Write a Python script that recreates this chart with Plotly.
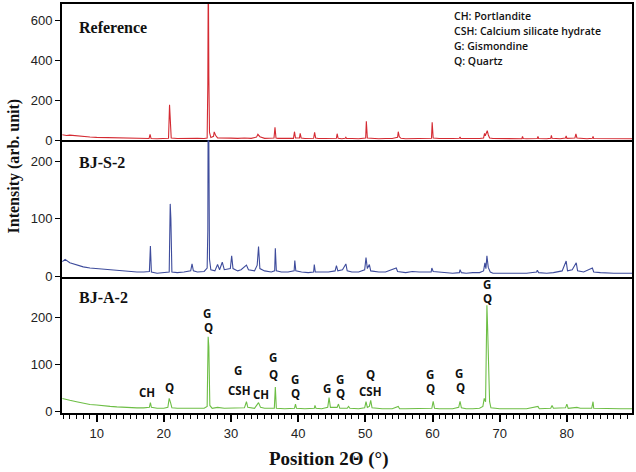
import plotly.graph_objects as go
from plotly.subplots import make_subplots

# ---------------- data ----------------
ref_x = [4.9, 5.5, 6, 7, 8, 9, 10, 11, 12, 13, 14, 15, 16, 17, 17.8, 17.95, 18.1, 19, 20, 20.7, 20.85, 20.95, 21.1,
         22, 23, 24, 25, 26, 26.45, 26.55, 26.62, 26.7, 26.8, 27.0, 27.4, 27.5, 27.7, 28, 29, 30, 31, 32, 33, 33.8,
         34.0, 34.3, 35, 36, 36.4, 36.55, 36.7, 37, 38, 39.3, 39.45, 39.6, 40.2, 40.3, 40.45, 41, 42.3, 42.45, 42.6,
         43, 44, 45.7, 45.8, 45.95, 46.5, 47.0, 47.1, 47.2, 48, 49, 50.05, 50.15, 50.3, 51, 52, 53, 54, 54.8, 54.9,
         55.05, 55.3, 56, 57, 58, 59.85, 59.95, 60.1, 61, 62, 63, 64.0, 64.1, 64.2, 65, 66, 67, 67.6, 67.75, 67.85,
         68.0, 68.15, 68.3, 68.5, 69, 70, 71, 72, 73.3, 73.4, 73.5, 74, 75.6, 75.7, 75.8, 77, 77.6, 77.7, 77.8, 79,
         79.8, 79.9, 80.0, 81.2, 81.35, 81.5, 83, 83.8, 83.9, 84.0, 86, 88, 89.7]
ref_y = [28, 24, 26, 22, 20, 17, 15, 14, 12, 11, 10, 10, 9, 8, 9, 30, 9, 8, 8, 10, 177, 110, 12,
         9, 10, 9, 10, 9, 12, 280, 900, 320, 40, 14, 20, 42, 25, 12, 10, 11, 10, 12, 10, 16,
         30, 18, 10, 11, 12, 65, 12, 10, 9, 10, 43, 12, 12, 35, 12, 9, 10, 40, 12,
         9, 9, 10, 33, 10, 8, 10, 15, 9, 9, 8, 12, 95, 12, 9, 8, 9, 9, 15, 43,
         18, 10, 8, 9, 8, 10, 90, 12, 9, 8, 9, 10, 17, 9, 8, 8, 9, 12, 35, 22,
         40, 48, 28, 12, 9, 8, 8, 9, 8, 20, 9, 8, 9, 20, 9, 8, 10, 25, 10, 8,
         12, 22, 10, 12, 32, 12, 8, 10, 20, 9, 8, 7, 8]

bjs_x = [4.9, 5.3, 6, 7, 8, 9, 10, 11, 12, 13, 14, 15, 16, 17, 17.85, 18.0, 18.15, 19, 20, 20.8, 20.95, 21.05, 21.2,
         22, 23, 24.0, 24.2, 24.4, 25, 26, 26.45, 26.55, 26.62, 26.7, 26.8, 27.0, 27.6, 28.0, 28.3, 28.7, 29, 29.9,
         30.1, 30.3, 31, 31.5, 32.3, 32.6, 33.5, 33.9, 34.1, 34.3, 35, 36, 36.5, 36.6, 36.75, 37.5, 38.5, 39.4, 39.5,
         39.65, 40.5, 41.5, 42.3, 42.4, 42.55, 43.5, 44.5, 45.5, 45.7, 45.9, 46.6, 47.1, 47.3, 48, 49, 49.9, 50.1,
         50.3, 50.6, 50.8, 52, 53, 54.6, 54.8, 56, 57, 58, 59.8, 59.9, 60.1, 61, 62, 63, 64, 64.1, 64.3, 65, 66, 67,
         67.6, 67.8, 67.95, 68.1, 68.3, 68.6, 69, 70, 71, 72, 73, 74, 75.5, 75.6, 75.8, 77, 78, 79.3, 79.9, 80.1,
         80.8, 81.4, 81.6, 82.5, 83.8, 84.0, 85, 87, 89.7]
bjs_y = [26, 30, 24, 20, 17, 15, 14, 12, 11, 10, 9, 9, 8, 8, 9, 53, 8, 6, 7, 8, 126, 100, 8,
         7, 8, 10, 22, 10, 8, 9, 15, 80, 400, 164, 30, 12, 10, 21, 12, 25, 12, 14,
         36, 14, 10, 12, 20, 12, 10, 20, 52, 14, 10, 8, 10, 49, 10, 8, 8, 10, 28,
         10, 8, 7, 8, 21, 8, 8, 8, 10, 19, 10, 12, 22, 10, 8, 8, 12, 33,
         14, 21, 10, 8, 8, 15, 9, 7, 9, 8, 8, 15, 9, 8, 7, 6, 7, 12, 7, 6, 7, 7,
         10, 24, 14, 36, 16, 8, 6, 6, 7, 7, 6, 6, 8, 11, 7, 6, 7, 10, 27, 10,
         12, 24, 10, 8, 15, 8, 7, 6, 6]

bja_x = [4.9, 5.3, 6, 7, 8, 9, 10, 11, 12, 13, 14, 15, 16, 17, 17.85, 18.0, 18.15, 19, 20, 20.6, 20.8, 21.0, 21.2,
         22, 23, 24, 25, 26, 26.45, 26.6, 26.7, 26.85, 27.2, 28, 29, 30, 31, 32, 32.3, 32.5, 33.5, 33.9, 34.1, 34.4,
         35, 36.45, 36.6, 36.75, 38, 39.45, 39.6, 39.75, 41, 42.4, 42.5, 42.65, 43.5, 44.4, 44.6, 44.8, 45.8, 46.0,
         46.2, 47.3, 47.5, 47.7, 49, 49.9, 50.1, 50.3, 50.6, 50.8, 51.0, 52.5, 54, 54.9, 55.1, 56, 57, 58, 59.9, 60.1,
         60.3, 61, 62, 63, 63.9, 64.1, 64.3, 65, 66, 67, 67.5, 67.7, 67.9, 68.0, 68.1, 68.2, 68.3, 68.4, 68.5, 68.7,
         70, 72, 74, 75.7, 75.9, 77.6, 77.8, 78.0, 79.8, 80.0, 80.2, 81.5, 82, 83.7, 83.9, 84.0, 86, 88, 89.7]
bja_y = [27, 25, 23, 20, 17, 14, 13, 11, 10, 9, 8, 8, 7, 7, 8, 18, 8, 6, 6, 8, 27, 18, 7,
         6, 6, 6, 6, 6, 10, 158, 137, 12, 6, 8, 6, 6, 6, 7, 20, 8, 6, 14, 18, 8,
         6, 6, 51, 6, 5, 6, 15, 6, 5, 6, 12, 6, 5, 8, 29, 8, 8, 15,
         6, 6, 10, 6, 5, 7, 20, 8, 10, 23, 7, 5, 5, 10, 5, 5, 5, 5, 6, 21,
         6, 5, 5, 5, 8, 21, 7, 5, 5, 6, 10, 27, 20, 120, 225, 180, 137, 65, 20, 7,
         5, 5, 5, 10, 5, 6, 12, 6, 7, 15, 6, 8, 6, 6, 20, 6, 5, 5, 5]

sample_names = ["Reference", "BJ-S-2", "BJ-A-2"]
legend_lines = ["CH: Portlandite", "CSH: Calcium silicate hydrate", "G: Gismondine", "Q: Quartz"]

peak_labels = ["CH", "Q", "G", "Q", "G", "CSH", "CH", "G", "Q", "G", "Q", "G", "G", "Q",
               "Q", "CSH", "G", "Q", "G", "Q", "G", "Q"]
peak_label_x = [17.5, 20.8, 26.5, 26.6, 31.0, 31.2, 34.45, 36.2, 36.3, 39.5, 39.65, 44.3, 46.2, 46.35,
                50.7, 50.7, 59.6, 59.75, 63.95, 64.1, 68.05, 68.2]
peak_label_y = [40, 50, 207, 177, 86, 44, 35, 114, 77, 68, 37, 49, 68, 37,
                77, 41, 77, 48, 81, 51, 269, 239]

x_ticks = [10, 20, 30, 40, 50, 60, 70, 80]

# ---------------- figure ----------------
colors = ["#D42A32", "#3E4C9C", "#6DBE45"]
fig = make_subplots(rows=3, cols=1, shared_xaxes=True, vertical_spacing=0)

for i, (xs, ys) in enumerate([(ref_x, ref_y), (bjs_x, bjs_y), (bja_x, bja_y)]):
    fig.add_trace(go.Scatter(x=xs, y=ys, mode="lines", line=dict(color=colors[i], width=1.1),
                             showlegend=False, hoverinfo="skip"), row=i + 1, col=1)

yranges = [[0, 680], [0, 236], [-4, 286]]
ydticks = [200, 100, 100]
for i in range(3):
    fig.update_yaxes(range=yranges[i], dtick=ydticks[i], tick0=0, showgrid=False, zeroline=False,
                     showline=True, linecolor="black", linewidth=2, mirror=True,
                     ticks="outside", ticklen=5, tickwidth=1, tickcolor="black",
                     tickfont=dict(family="Liberation Sans", size=13, color="#222"),
                     row=i + 1, col=1)
    fig.update_xaxes(range=[4.84, 89.7], showgrid=False, zeroline=False,
                     showline=True, linecolor="black", linewidth=2, mirror=(i == 0),
                     row=i + 1, col=1)

fig.update_xaxes(showticklabels=False, ticks="", row=1, col=1)
fig.update_xaxes(showticklabels=False, ticks="", row=2, col=1)
fig.update_xaxes(tickvals=x_ticks, ticks="outside", ticklen=7, tickwidth=1.5, tickcolor="black",
                 tickfont=dict(family="Liberation Sans", size=13, color="#222"),
                 minor=dict(dtick=1, tick0=0, ticks="outside", ticklen=4, tickwidth=1, tickcolor="black"),
                 row=3, col=1)

annotations = []
label_y = [565, 198, 242]
yrefs = ["y", "y2", "y3"]
for i, name in enumerate(sample_names):
    annotations.append(dict(x=7.0, y=label_y[i], xref="x", yref=yrefs[i], text=name, showarrow=False,
                            xanchor="left", yanchor="middle",
                            font=dict(family="Liberation Serif", size=16, color="#111", weight="bold")))

leg_y = [620, 545, 470, 395]
for t, yy in zip(legend_lines, leg_y):
    annotations.append(dict(x=62.9, y=yy, xref="x", yref="y", text=t, showarrow=False,
                            xanchor="left", yanchor="middle",
                            font=dict(family="Open Sans", size=10.5, color="#111", weight=600)))

for t, xx, yy in zip(peak_labels, peak_label_x, peak_label_y):
    annotations.append(dict(x=xx, y=yy, xref="x3", yref="y3", text=t, showarrow=False,
                            xanchor="center", yanchor="middle",
                            font=dict(family="Open Sans", size=11.5, color="#111", weight="bold")))

annotations.append(dict(x=-0.084, y=0.603, xref="paper", yref="paper", text="Intensity (arb. unit)",
                        textangle=-90, showarrow=False, xanchor="center", yanchor="middle",
                        font=dict(family="Liberation Serif", size=16, color="#111", weight="bold")))
annotations.append(dict(x=0.468, y=-0.112, xref="paper", yref="paper", text="Position 2Θ (°)",
                        showarrow=False, xanchor="center", yanchor="middle",
                        font=dict(family="Liberation Serif", size=19, color="#111", weight="bold")))

fig.update_layout(width=636, height=472, margin=dict(l=62, r=4, t=2, b=59),
                  plot_bgcolor="white", paper_bgcolor="white", annotations=annotations)

fig.write_html("out.html", config={"displayModeBar": False},
               post_script="document.body.style.margin='0';document.body.style.overflow='hidden';")
